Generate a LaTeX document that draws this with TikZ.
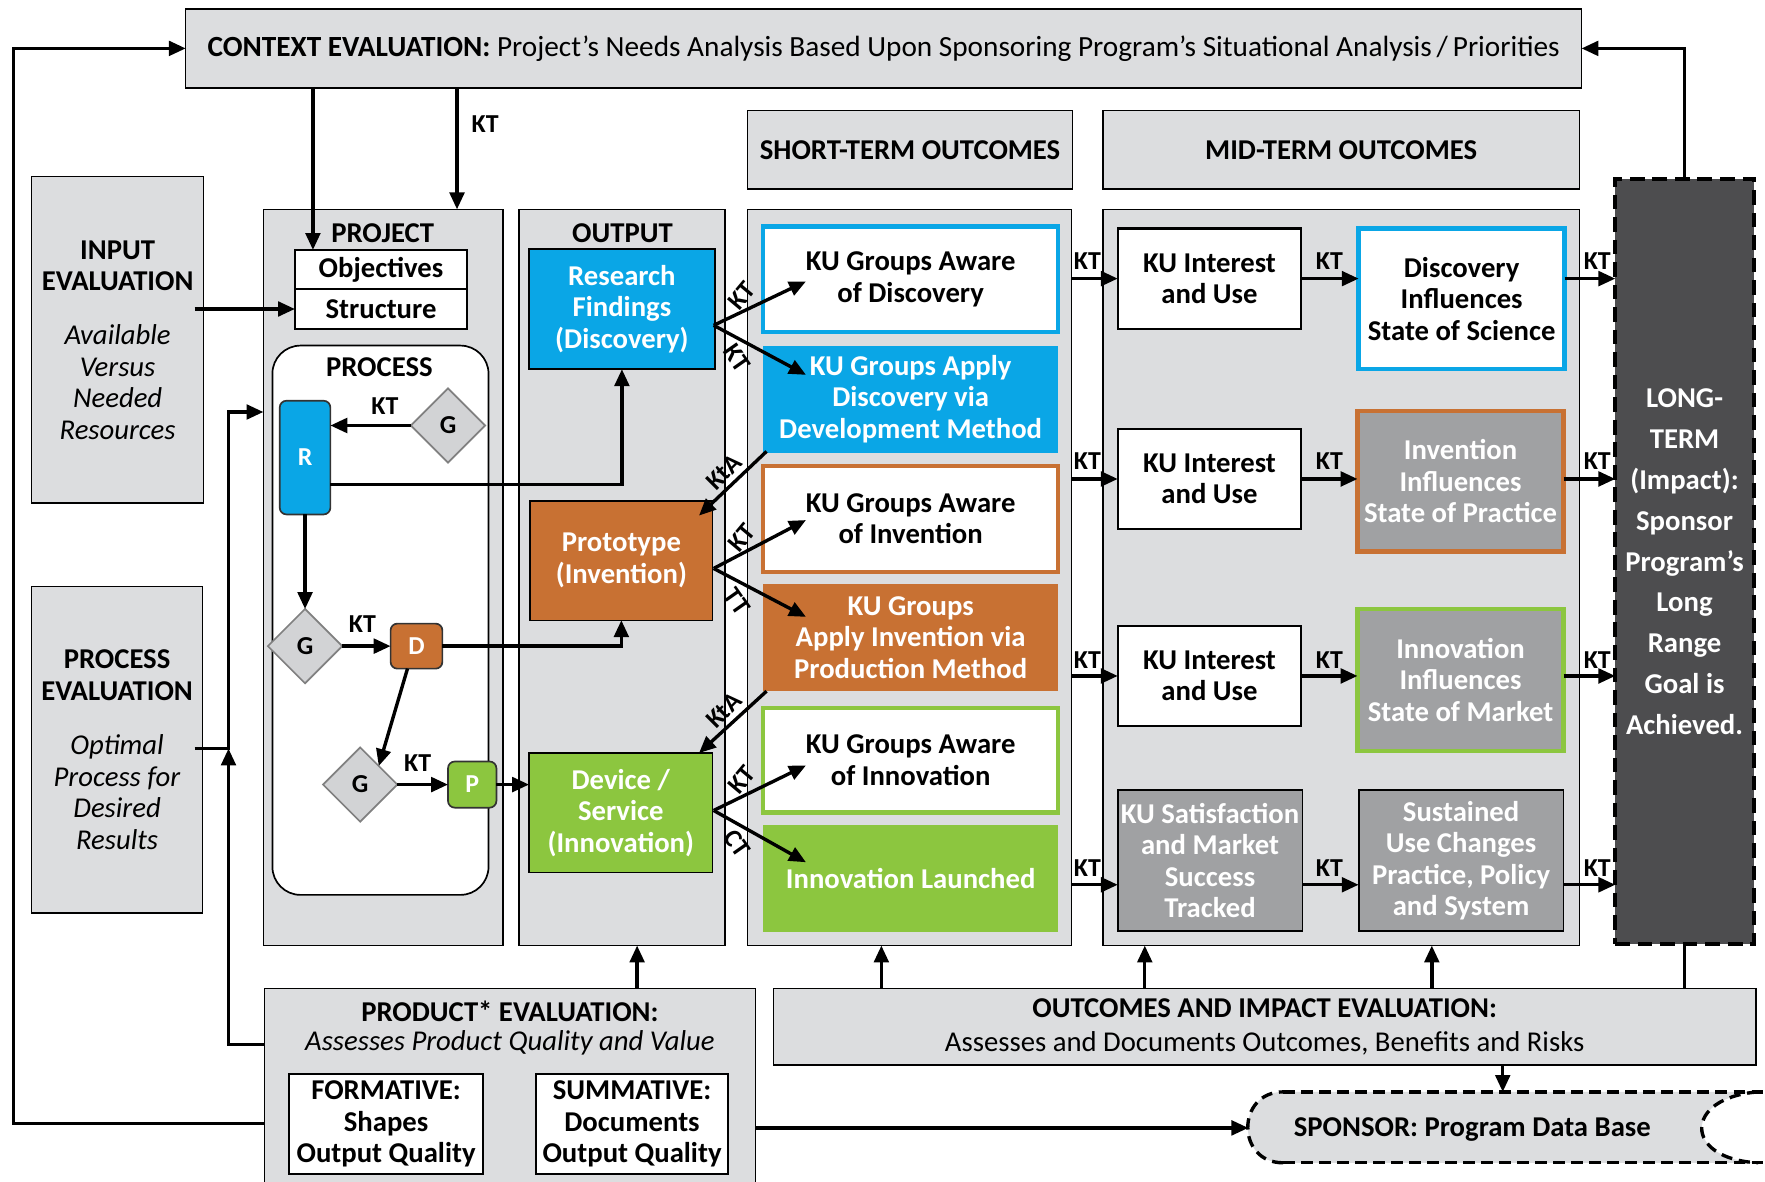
\documentclass[tikz,border=0pt]{standalone}
\usepackage{fontspec}
\setmainfont{Carlito}
\usetikzlibrary{arrows.meta,shapes.geometric,calc}
\definecolor{panel}{HTML}{DCDDDF}
\definecolor{kblue}{HTML}{0AA6E6}
\definecolor{korange}{HTML}{C87133}
\definecolor{kgreen}{HTML}{8CC63F}
\definecolor{kgray}{HTML}{A0A1A3}
\definecolor{kdark}{HTML}{4D4D4F}
\definecolor{kdiam}{HTML}{D2D3D5}
\newcommand\kfb{\fontsize{25.5}{28}\selectfont\bfseries}
\newcommand\kfr{\fontsize{25.5}{28}\selectfont}
\newcommand\kfk{\fontsize{23}{25}\selectfont\bfseries}
\newcommand\kfl{\fontsize{25.5}{36.4}\selectfont\bfseries}
\begin{document}
\begin{tikzpicture}[x=1pt,y=-1pt,
  every node/.style={inner sep=0pt, outer sep=0pt},
  pbox/.style={draw=black, line width=1.3pt, fill=panel},
  wbox/.style={draw=black, line width=1.5pt, fill=white, font=\kfb, align=center},
  cbox/.style={line width=4pt, fill=white, font=\kfb, align=center},
  fbox/.style={font=\kfb, align=center, text=white},
  gbox/.style={draw=black, line width=1.5pt, fill=kgray, font=\kfb, align=center, text=white},
  small/.style={draw=black!80, line width=1.5pt, rounded corners=6pt, font=\kfk, text=white},
  gate/.style={diamond, aspect=1, minimum size=66pt, fill=kdiam, draw=black!50, line width=1.5pt, font=\kfk},
  hdr/.style={font=\kfb},
  lab/.style={font=\kfk},
  arr/.style={line width=3pt, -{Triangle[length=15pt,width=13pt]}},
  ln/.style={line width=3pt}
]
\fill[white] (0,0) rectangle (1568,1050);
\useasboundingbox (0,0) rectangle (1568,1050);

% ---------- top ----------
\node[pbox, minimum width=1240pt, minimum height=70pt, font=\fontsize{26}{28}\selectfont] (context) at (785,43)
  {\textbf{CONTEXT EVALUATION:} Project’s Needs Analysis Based Upon Sponsoring Program’s Situational Analysis\,/\,Priorities};
\node[pbox, minimum width=289pt, minimum height=70pt, font=\kfb] (shorthdr) at (808.5,133) {SHORT-TERM OUTCOMES};
\node[pbox, minimum width=423pt, minimum height=70pt, font=\kfb] (midhdr) at (1191.5,133) {MID-TERM OUTCOMES};

% ---------- left evaluations ----------
\node[pbox, minimum width=153pt, minimum height=290pt, font=\kfr, align=center] (input) at (104.5,302)
  {\textbf{INPUT}\\\textbf{EVALUATION}\\[20pt]\textit{Available}\\\textit{Versus}\\\textit{Needed}\\\textit{Resources}};
\node[pbox, minimum width=152pt, minimum height=290pt, font=\kfr, align=center] (proceval) at (104,666)
  {\textbf{PROCESS}\\\textbf{EVALUATION}\\[20pt]\textit{Optimal}\\\textit{Process for}\\\textit{Desired}\\\textit{Results}};

% ---------- project ----------
\node[pbox, minimum width=213pt, minimum height=654pt] (project) at (340.5,513) {};
\node[hdr] (projlab) at (340,207) {PROJECT};
\node[wbox, minimum width=153pt, minimum height=35pt] (objectives) at (338.5,239.5) {Objectives};
\node[wbox, minimum width=153pt, minimum height=35pt] (structure) at (338.5,274.5) {Structure};
\node[draw=black, line width=1.5pt, fill=white, rounded corners=25pt, minimum width=192pt, minimum height=488pt] (process) at (338,551) {};
\node[hdr] (proclab) at (337,326) {PROCESS};
\node[small, fill=kblue, minimum width=45pt, minimum height=101pt] (R) at (271,406.5) {R};
\node[gate] (G1) at (398,378) {G};
\node[gate] (G2) at (271,574) {G};
\node[small, fill=korange, minimum width=46pt, minimum height=40pt] (D) at (370,574) {D};
\node[gate] (G3) at (320,697) {G};
\node[small, fill=kgreen, minimum width=43pt, minimum height=41pt] (P) at (419.5,697) {P};

% ---------- output ----------
\node[pbox, minimum width=183pt, minimum height=654pt] (output) at (552.5,513) {};
\node[hdr] (outlab) at (553,207) {OUTPUT};
\node[fbox, draw=black, line width=1.3pt, fill=kblue, minimum width=165pt, minimum height=107pt] (research) at (552.5,274.5) {Research\\Findings\\(Discovery)};
\node[fbox, draw=black, line width=1.3pt, fill=korange, minimum width=162pt, minimum height=106pt] (prototype) at (552,498) {Prototype\\(Invention)};
\node[fbox, draw=black, line width=1.3pt, fill=kgreen, minimum width=163pt, minimum height=106pt] (device) at (551.5,722) {Device /\\Service\\(Innovation)};

% ---------- short-term ----------
\node[pbox, minimum width=288pt, minimum height=654pt] (short) at (808,513) {};
\node[cbox, draw=kblue, minimum width=262pt, minimum height=94pt] (st1) at (809,248) {KU Groups Aware\\of Discovery};
\node[fbox, fill=kblue, minimum width=262pt, minimum height=95pt] (st2) at (809,354.5) {KU Groups Apply\\Discovery via\\Development Method};
\node[cbox, draw=korange, minimum width=262pt, minimum height=94pt] (st3) at (809,461) {KU Groups Aware\\of Invention};
\node[fbox, fill=korange, minimum width=262pt, minimum height=95pt] (st4) at (809,566.5) {KU Groups\\Apply Invention via\\Production Method};
\node[cbox, draw=kgreen, minimum width=262pt, minimum height=93pt] (st5) at (809,675.5) {KU Groups Aware\\of Innovation};
\node[fbox, fill=kgreen, minimum width=262pt, minimum height=95pt] (st6) at (809,780.5) {Innovation Launched};

% ---------- mid-term ----------
\node[pbox, minimum width=423pt, minimum height=654pt] (mid) at (1191.5,513) {};
\node[wbox, line width=2pt, minimum width=163pt, minimum height=89pt] (ku1) at (1074.5,247.5) {KU Interest\\and Use};
\node[wbox, line width=2pt, minimum width=163pt, minimum height=89pt] (ku2) at (1074.5,425.5) {KU Interest\\and Use};
\node[wbox, line width=2pt, minimum width=163pt, minimum height=89pt] (ku3) at (1074.5,600.5) {KU Interest\\and Use};
\node[gbox, minimum width=164pt, minimum height=125pt] (ku4) at (1075,764.5) {KU Satisfaction\\and Market\\Success\\Tracked};
\node[cbox, draw=kblue, minimum width=183pt, minimum height=125pt] (r1) at (1298.5,265.5) {Discovery\\Influences\\State of Science};
\node[gbox, draw=korange, line width=4pt, minimum width=183pt, minimum height=125pt] (r2) at (1297.5,427.5) {Invention\\Influences\\State of Practice};
\node[gbox, draw=kgreen, line width=4pt, minimum width=183pt, minimum height=126pt] (r3) at (1297.5,604) {Innovation\\Influences\\State of Market};
\node[gbox, minimum width=182pt, minimum height=125pt] (r4) at (1298,764.5) {Sustained\\Use Changes\\Practice, Policy\\and System};

% ---------- long-term ----------
\node[fill=kdark, draw=black, line width=3.5pt, dash pattern=on 13pt off 7pt, minimum width=123pt, minimum height=680pt,
  font=\kfl, text=white, align=center] (longterm) at (1496.5,499)
  {LONG-\\TERM\\(Impact):\\Sponsor\\Program’s\\Long\\Range\\Goal is\\Achieved.};

% ---------- bottom ----------
\node[pbox, minimum width=436pt, minimum height=174pt] (product) at (453,965) {};
\node[hdr] (prodlab) at (453,898) {PRODUCT* EVALUATION:};
\node[font=\kfr\itshape] (prodsub) at (453,926) {Assesses Product Quality and Value};
\node[wbox, minimum width=172pt, minimum height=89pt] (formative) at (343,998.5) {FORMATIVE:\\Shapes\\Output Quality};
\node[wbox, minimum width=171pt, minimum height=89pt] (summative) at (561.5,998.5) {SUMMATIVE:\\Documents\\Output Quality};
\node[pbox, minimum width=873pt, minimum height=68pt, font=\fontsize{25.5}{30}\selectfont, align=center] (outcomes) at (1123.5,912)
  {\textbf{OUTCOMES AND IMPACT EVALUATION:}\\Assesses and Documents Outcomes, Benefits and Risks};

\fill[panel] (1140,970) -- (1562,970) .. controls (1495,975) and (1495,1030) .. (1562,1033)
  -- (1140,1033) .. controls (1098,1033) and (1098,970) .. (1140,970) -- cycle;
\draw[line width=3pt, dash pattern=on 10pt off 6pt] (1140,970) -- (1566,970);
\draw[line width=3pt, dash pattern=on 10pt off 6pt] (1140,1033) -- (1566,1033);
\draw[line width=3pt, dash pattern=on 10pt off 6pt] (1140,1033) .. controls (1098,1033) and (1098,970) .. (1140,970);
\draw[line width=3pt, dash pattern=on 10pt off 6pt] (1562,970) .. controls (1495,975) and (1495,1030) .. (1562,1033);
\node[hdr] (sponsor) at (1308,1003) {SPONSOR: Program Data Base};

% ---------- coordinates ----------
\coordinate (ctxA) at (278,78);
\coordinate (ctxB) at (406,78);
\coordinate (inS) at (173,274.5);
\coordinate (peS) at (173,665);
\coordinate (peJ) at (203,665);
\coordinate (peTop) at (203,366);
\coordinate (prjIn) at (234,366);
\coordinate (prL1) at (235,928);
\coordinate (prL2) at (235,998);
\coordinate (leftX) at (12,500);
\coordinate (prT) at (566,878);
\coordinate (prR) at (671,1002);
\coordinate (spW) at (1109,1002);
\coordinate (oc1) at (783,878);
\coordinate (oc2) at (1017,878);
\coordinate (oc3) at (1272,878);
\coordinate (oc5) at (1335,946);
\coordinate (spT) at (1335,970);
\coordinate (row4) at (0,786);
\coordinate (f1) at (634,289);
\coordinate (f1a) at (716,250);
\coordinate (f1b) at (716,333);
\coordinate (k1s) at (681,401);
\coordinate (k1e) at (621,458);
\coordinate (f2) at (634,505);
\coordinate (f2a) at (716,462);
\coordinate (f2b) at (716,548);
\coordinate (k2s) at (681,614);
\coordinate (k2e) at (621,669);
\coordinate (f3) at (634,720);
\coordinate (f3a) at (716,680);
\coordinate (f3b) at (716,766);

% ---------- connectors ----------
\draw[arr] (prL2) -| (leftX) |- (context.west);
\draw[arr] (longterm.north) |- (context.east);
\draw[arr] (ctxA) -- (ctxA |- objectives.north);
\draw[arr] (ctxB) -- (ctxB |- project.north);
\node[lab] (ktc) at (431,110) {KT};
\draw[arr] (inS) -- (structure.west);
\draw[arr] (peS) -| (peTop) -- (prjIn);
\draw[arr] (prL1) -| (peJ);

\draw[arr] (G1.west) -- (G1.west -| R.east);
\node[lab] (kt1) at (342,361) {KT};
\draw[arr] (R.south) -- (G2.north);
\draw[arr] (G2.east) -- (D.west);
\node[lab] (kt2) at (322,554) {KT};
\draw[arr] ([xshift=-8pt]D.south) -- (G3.north east);
\draw[arr] (G3.east) -- (P.west);
\node[lab] (kt3) at (371,678) {KT};
\draw[arr] (P.east) -- (P.east -| device.west);
\draw[arr] ([yshift=-24pt]R.east) -| (research.south);
\draw[arr] (D.east) -| (prototype.south);

\draw[arr] (f1) -- (f1a);
\draw[arr] (f1) -- (f1b);
\node[lab, rotate=50] (kf1a) at (659,263) {KT};
\node[lab, rotate=-55] (kf1b) at (655,318) {KT};
\draw[arr] (k1s) -- (k1e);
\node[lab, rotate=45] (kta1) at (643,419) {KtA};
\draw[arr] (f2) -- (f2a);
\draw[arr] (f2) -- (f2b);
\node[lab, rotate=50] (kf2a) at (659,478) {KT};
\node[lab, rotate=-55] (kf2b) at (655,534) {TT};
\draw[arr] (k2s) -- (k2e);
\node[lab, rotate=45] (kta2) at (643,631) {KtA};
\draw[arr] (f3) -- (f3a);
\draw[arr] (f3) -- (f3b);
\node[lab, rotate=50] (kf3a) at (659,693) {KT};
\node[lab, rotate=-55] (kf3b) at (655,749) {CT};

\draw[arr] (short.east |- ku1.west) -- (ku1.west);
\draw[arr] (short.east |- ku2.west) -- (ku2.west);
\draw[arr] (short.east |- ku3.west) -- (ku3.west);
\draw[arr] (short.east |- row4) -- (ku4.west |- row4);
\draw[arr] (ku1.east) -- (ku1.east -| r1.west);
\draw[arr] (ku2.east) -- (ku2.east -| r2.west);
\draw[arr] (ku3.east) -- (ku3.east -| r3.west);
\draw[arr] (ku4.east |- row4) -- (r4.west |- row4);
\draw[arr] (r1.east |- ku1.east) -- (longterm.west |- ku1.east);
\draw[arr] (r2.east |- ku2.east) -- (longterm.west |- ku2.east);
\draw[arr] (r3.east |- ku3.east) -- (longterm.west |- ku3.east);
\draw[arr] (r4.east |- row4) -- (longterm.west |- row4);
\foreach \n/\y in {a/232,b/410,c/586,d/771}{
  \node[lab] (kmA\n) at (966,\y) {KT};
  \node[lab] (kmB\n) at (1181,\y) {KT};
  \node[lab] (kmC\n) at (1419,\y) {KT};
}

\draw[arr] (prT) -- (prT |- output.south);
\draw[arr] (prR) -- (spW);
\draw[arr] (oc1) -- (oc1 |- short.south);
\draw[arr] (oc2) -- (oc2 |- mid.south);
\draw[arr] (oc3) -- (oc3 |- mid.south);
\draw[ln] (longterm.south |- outcomes.north) -- (longterm.south);
\draw[arr] (oc5) -- (spT);
\end{tikzpicture}
\end{document}
